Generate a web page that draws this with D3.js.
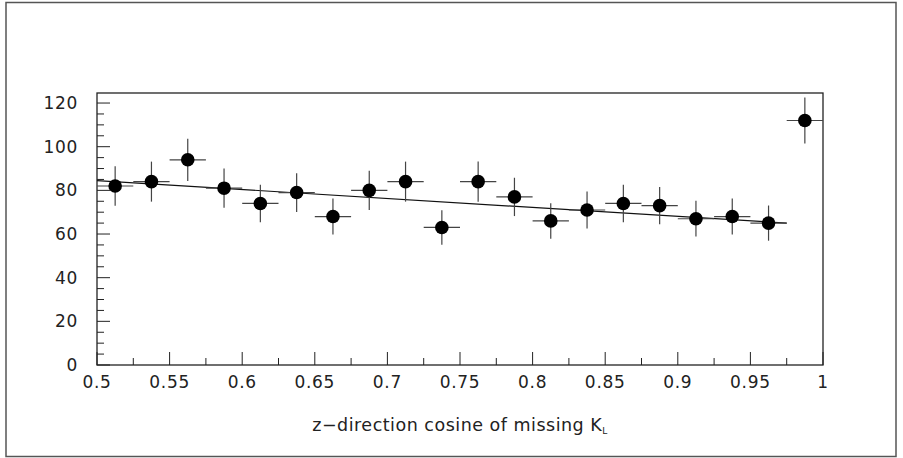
<!DOCTYPE html>
<html>
<head>
<meta charset="utf-8">
<script src="https://cdn.jsdelivr.net/npm/d3@7"></script>
<style>
  body { margin: 0; background: #fff; }
  svg text { font-family: "DejaVu Sans ExtraLight", "DejaVu Sans", sans-serif; fill: #222; }
</style>
</head>
<body>
<div id="chart"></div>
<script>
(function () {
    const W = 903, H = 458;
    const margin = { top: 93, right: 80, bottom: 93, left: 97 };
    const width = W - margin.left - margin.right;
    const height = H - margin.top - margin.bottom;

    // histogram bins (low edges) and counts
    const binLow = [0.5, 0.525, 0.55, 0.575, 0.6, 0.625, 0.65, 0.675, 0.7, 0.725,
                    0.75, 0.775, 0.8, 0.825, 0.85, 0.875, 0.9, 0.925, 0.95, 0.975];
    const binWidth = 0.025;
    const counts = [82, 84, 94, 81, 74, 79, 68, 80, 84, 63,
                    84, 77, 66, 71, 74, 73, 67, 68, 65, 112];
    // straight line fit, endpoints
    const fitX = [0.5, 0.975];
    const fitY = [84.5, 65.0];

    const xTicks = [0.5, 0.55, 0.6, 0.65, 0.7, 0.75, 0.8, 0.85, 0.9, 0.95, 1];
    const yTicks = [0, 20, 40, 60, 80, 100, 120];

    const svg = d3.select("#chart").append("svg")
        .attr("width", W)
        .attr("height", H);

    // outer page frame
    svg.append("rect")
        .attr("x", 6).attr("y", 2.5)
        .attr("width", 890).attr("height", 454)
        .attr("fill", "none")
        .attr("stroke", "#555")
        .attr("stroke-width", 1.5);

    const g = svg.append("g")
        .attr("transform", `translate(${margin.left},${margin.top})`);

    const x = d3.scaleLinear().domain([0.5, 1]).range([0, width]);
    const y = d3.scaleLinear().domain([0, 124.6]).range([height, 0]);

    // plot frame
    g.append("rect")
        .attr("width", width).attr("height", height)
        .attr("fill", "none")
        .attr("stroke", "#222")
        .attr("stroke-width", 1.3);

    // minor ticks
    const xMinor = d3.range(0.525, 1, 0.05);
    g.selectAll(".xminor").data(xMinor).enter().append("line")
        .attr("x1", d => x(d)).attr("x2", d => x(d))
        .attr("y1", height).attr("y2", height - 7)
        .attr("stroke", "#222");
    g.selectAll(".xmajor").data(xTicks).enter().append("line")
        .attr("x1", d => x(d)).attr("x2", d => x(d))
        .attr("y1", height).attr("y2", height - 13)
        .attr("stroke", "#222");

    const yMinor = d3.range(5, 124, 5).filter(v => v % 20 !== 0);
    g.selectAll(".yminor").data(yMinor).enter().append("line")
        .attr("x1", 0).attr("x2", 7)
        .attr("y1", d => y(d)).attr("y2", d => y(d))
        .attr("stroke", "#222");
    g.selectAll(".ymajor").data(yTicks).enter().append("line")
        .attr("x1", 0).attr("x2", 13)
        .attr("y1", d => y(d)).attr("y2", d => y(d))
        .attr("stroke", "#222");

    // tick labels
    g.selectAll(".xlab").data(xTicks).enter().append("text")
        .attr("x", d => x(d))
        .attr("y", height + 23)
        .attr("text-anchor", "middle")
        .style("font-size", "17px")
        .style("letter-spacing", "0.7px")
        .text(d => d3.format("~g")(d));
    g.selectAll(".ylab").data(yTicks).enter().append("text")
        .attr("x", -19)
        .attr("y", d => y(d) + 6)
        .attr("text-anchor", "end")
        .style("font-size", "17px")
        .style("letter-spacing", "0.7px")
        .text(d => d);

    // axis title
    const title = g.append("text")
        .attr("x", width / 2)
        .attr("y", height + 66)
        .attr("text-anchor", "middle")
        .style("font-size", "17.5px")
        .style("letter-spacing", "0.5px");
    title.append("tspan").text("z\u2212direction cosine of missing K");
    title.append("tspan").attr("dy", 3).style("font-size", "9px").text("L");

    // fit line
    g.append("line")
        .attr("x1", x(fitX[0])).attr("y1", y(fitY[0]))
        .attr("x2", x(fitX[1])).attr("y2", y(fitY[1]))
        .attr("stroke", "#111")
        .attr("stroke-width", 1.2);

    const pts = counts.map((c, i) => ({ lo: binLow[i], c: c, e: Math.sqrt(c) }));

    // error bars
    g.selectAll(".ex").data(pts).enter().append("line")
        .attr("x1", d => x(d.lo)).attr("x2", d => x(d.lo + binWidth))
        .attr("y1", d => y(d.c)).attr("y2", d => y(d.c))
        .attr("stroke", "#444").attr("stroke-width", 1.2);
    g.selectAll(".ey").data(pts).enter().append("line")
        .attr("x1", d => x(d.lo + binWidth / 2)).attr("x2", d => x(d.lo + binWidth / 2))
        .attr("y1", d => y(d.c - d.e)).attr("y2", d => y(d.c + d.e))
        .attr("stroke", "#444").attr("stroke-width", 1.2);

    // markers
    g.selectAll(".pt").data(pts).enter().append("circle")
        .attr("cx", d => x(d.lo + binWidth / 2))
        .attr("cy", d => y(d.c))
        .attr("r", 6.8)
        .attr("fill", "#000");
})();
</script>
</body>
</html>
